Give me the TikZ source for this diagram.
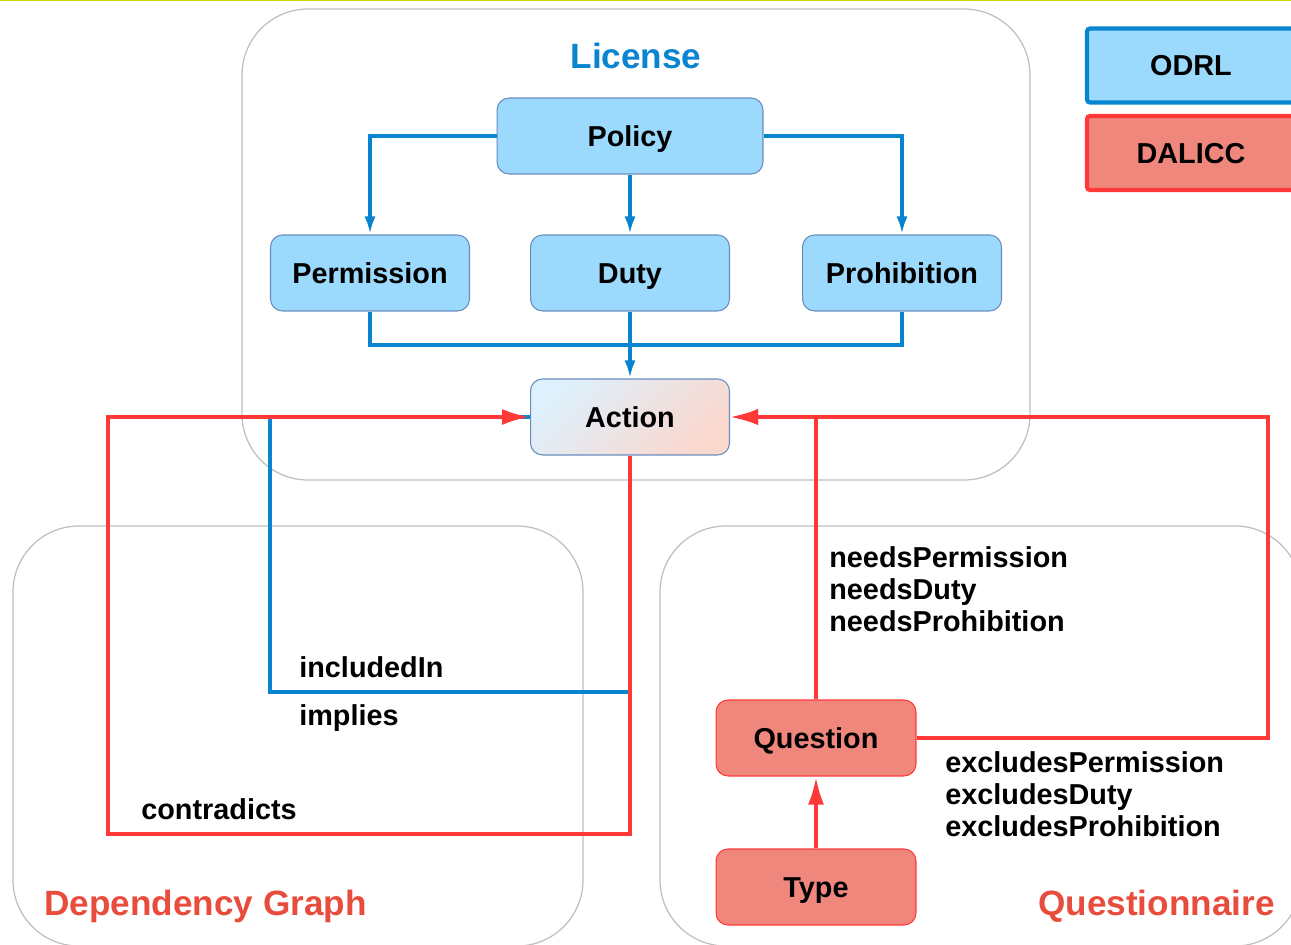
\documentclass[tikz,border=0pt]{standalone}
\usepackage{fontspec}
\setmainfont{Liberation Sans}
\usetikzlibrary{arrows.meta}
\definecolor{odrlfill}{RGB}{155,218,253}
\definecolor{odrlblue}{RGB}{8,132,208}
\definecolor{odrledge}{RGB}{105,140,190}
\definecolor{dalfill}{RGB}{240,135,125}
\definecolor{dalred}{RGB}{255,56,56}
\definecolor{titlered}{RGB}{232,76,61}
\definecolor{areagray}{RGB}{190,190,190}
\definecolor{actblue}{RGB}{222,240,252}
\definecolor{actpink}{RGB}{250,216,206}
\definecolor{topline}{RGB}{212,210,0}

\begin{document}
\begin{tikzpicture}[x=0.02cm, y=-0.02cm,
	txt/.style = {font=\fontsize{16.4}{18.1}\selectfont\bfseries, inner sep=0pt, text height=11.7pt, text depth=0pt},
	lines/.style = {font=\fontsize{16.4}{18.1}\selectfont\bfseries, inner sep=0pt, align=left, anchor=west},
	title/.style = {font=\fontsize{20}{24}\selectfont\bfseries, inner sep=0pt, text height=14.3pt, text depth=0pt},
	box/.style = {txt, rounded corners=0.24cm, minimum width=3.98cm, minimum height=1.52cm},
	odrlbox/.style = {box, fill=odrlfill, draw=odrledge, line width=0.6pt},
	dalbox/.style = {box, fill=dalfill, draw=dalred, line width=0.6pt},
	legend/.style = {txt, rounded corners=0.06cm, minimum width=4.16cm, minimum height=1.48cm, line width=2.4pt},
	area/.style = {draw=areagray, line width=0.7pt, rounded corners=1.32cm},
	odrlline/.style = {draw=odrlblue, line width=2.1pt},
	odrlarrow/.style = {odrlline, -{Latex[length=0.36cm, width=0.22cm]}},
	dalline/.style = {draw=dalred, line width=2.3pt},
	dalarrow/.style = {dalline, -{Latex[length=0.56cm, width=0.32cm]}}]
	\useasboundingbox (0,0) rectangle (1291,945);
	\clip (0,0) rectangle (1291,945);
	\draw [topline, line width=1pt] (0,0.5) -- (1291,0.5);
	\draw [area] (242,9) rectangle (1030,480);
	\draw [area] (13,526) rectangle (583,946);
	\draw [area] (660,526) rectangle (1301,946);
	\node [title, text=odrlblue] (license) at (636,56) {License};
	\node [title, text=titlered, anchor=west] (depgraph) at (44,903) {Dependency Graph};
	\node [title, text=titlered, anchor=east] (questionnaire) at (1275,903) {Questionnaire};
	\node [legend, fill=odrlfill, draw=odrlblue] (odrl) at (1191,65.5) {ODRL};
	\node [legend, fill=dalfill, draw=dalred] (dalicc) at (1191,153) {DALICC};
	\node [odrlbox, minimum width=5.32cm] (policy) at (630,136) {Policy};
	\node [odrlbox] (permission) at (370,273) {Permission};
	\node [odrlbox] (duty) at (630,273) {Duty};
	\node [odrlbox] (prohibition) at (902,273) {Prohibition};
	\node [box, draw=odrledge, line width=0.6pt, left color=actblue, right color=actpink, shading angle=45] (action) at (630,417) {Action};
	\node [dalbox, minimum width=4cm] (question) at (816,738) {Question};
	\node [dalbox, minimum width=4cm] (type) at (816,887) {Type};
	\coordinate (join) at (630,345);
	\coordinate (incl) at (270,692);
	\coordinate (contra) at (108,834);
	\coordinate (excl) at (1268,738);
	\draw [odrlarrow] (policy.west) -| (permission.north);
	\draw [odrlarrow] (policy.east) -| (prohibition.north);
	\draw [odrlarrow] (policy) -- (duty);
	\draw [odrlline] (permission.south) |- (join);
	\draw [odrlline] (prohibition.south) |- (join);
	\draw [odrlarrow] (duty) -- (action);
	\draw [odrlline] (action.west) -| (incl) -| (action.south);
	\draw [dalarrow] (action.south) |- (contra) |- (action.west);
	\draw [dalarrow] (question.north) |- (action.east);
	\draw [dalarrow] (question.east) -- (excl) |- (action.east);
	\draw [dalarrow] (type) -- (question);
	\node [txt, anchor=west] (includedin) at (299,667) {includedIn};
	\node [txt, anchor=west] (implies) at (299,715) {implies};
	\node [txt, anchor=west] (contradicts) at (141,809) {contradicts};
	\node [lines] (needs) at (829,589) {needsPermission\\needsDuty\\needsProhibition};
	\node [lines] (excludes) at (945,794) {excludesPermission\\excludesDuty\\excludesProhibition};
\end{tikzpicture}
\end{document}
